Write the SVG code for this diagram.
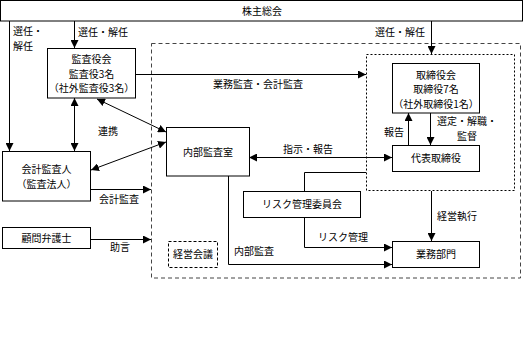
<svg xmlns="http://www.w3.org/2000/svg" width="524" height="341" viewBox="0 0 524 341">
<style>
text{font-family:"Noto Sans CJK JP","Noto Sans",sans-serif;font-size:10px;fill:#000}
.c{text-anchor:middle}
.box{fill:#fff;stroke:#000;stroke-width:1}
.ln{fill:none;stroke:#000;stroke-width:1}
</style>
<defs>
<marker id="ah" viewBox="0 0 10 10" refX="10" refY="5" markerWidth="8" markerHeight="8" markerUnits="userSpaceOnUse" orient="auto-start-reverse">
<path d="M0,0 L10,5 L0,10 z" fill="#000"/>
</marker>
</defs>
<rect x="0" y="0" width="524" height="341" fill="#fff"/>
<g id="outer-area">
<rect x="151.5" y="43.5" width="369" height="234.5" fill="none" stroke="#444" stroke-dasharray="4,3"/>
</g>
<g id="board-area">
<rect x="366.5" y="54.5" width="148" height="136" fill="none" stroke="#000" stroke-dasharray="2,2"/>
</g>
<g id="connectors">
<polyline class="ln" points="9.5,21 9.5,151" marker-end="url(#ah)"/>
<line class="ln" x1="74.5" y1="21" x2="74.5" y2="48" marker-end="url(#ah)"/>
<line class="ln" x1="431.5" y1="21" x2="431.5" y2="54" marker-end="url(#ah)"/>
<line class="ln" x1="136" y1="74.5" x2="366" y2="74.5" marker-end="url(#ah)"/>
<line class="ln" x1="74.5" y1="98" x2="74.5" y2="151" marker-start="url(#ah)" marker-end="url(#ah)"/>
<line class="ln" x1="97" y1="99" x2="166" y2="132" marker-start="url(#ah)" marker-end="url(#ah)"/>
<line class="ln" x1="166" y1="142" x2="91" y2="170" marker-start="url(#ah)" marker-end="url(#ah)"/>
<line class="ln" x1="90" y1="189.5" x2="151" y2="189.5" marker-end="url(#ah)"/>
<line class="ln" x1="90" y1="239.5" x2="151" y2="239.5" marker-end="url(#ah)"/>
<line class="ln" x1="408.5" y1="145" x2="408.5" y2="113" marker-end="url(#ah)"/>
<line class="ln" x1="430.5" y1="113" x2="430.5" y2="145" marker-end="url(#ah)"/>
<line class="ln" x1="249" y1="157.5" x2="392" y2="157.5" marker-start="url(#ah)" marker-end="url(#ah)"/>
<polyline class="ln" points="304.5,191 304.5,172.5 366,172.5"/>
<polyline class="ln" points="304.5,217 304.5,247.5 392,247.5" marker-end="url(#ah)"/>
<line class="ln" x1="431.5" y1="191" x2="431.5" y2="241" marker-end="url(#ah)"/>
<polyline class="ln" points="228.5,176 228.5,264.5 392,264.5" marker-end="url(#ah)"/>
</g>
<g id="labels">
<text x="13" y="35">選任・</text>
<text x="13" y="49.5">解任</text>
<text x="78" y="36">選任・解任</text>
<text x="375" y="36">選任・解任</text>
<text x="213" y="88">業務監査・会計監査</text>
<text x="98" y="135">連携</text>
<text x="99" y="203">会計監査</text>
<text x="110" y="251">助言</text>
<text x="283" y="153">指示・報告</text>
<text x="384" y="135.5">報告</text>
<text x="437" y="125">選定・解職・</text>
<text x="457" y="139.5">監督</text>
<text x="437" y="220">経営執行</text>
<text x="318" y="241">リスク管理</text>
<text x="234" y="255">内部監査</text>
</g>
<g id="shareholders">
<rect class="box" x="0.5" y="0.5" width="522" height="20.5"/>
<text class="c" x="262" y="15">株主総会</text>
</g>
<g id="auditors">
<rect class="box" x="47.5" y="48.5" width="88" height="49.5"/>
<text class="c" x="91.5" y="63">監査役会</text>
<text class="c" x="91.5" y="77.5">監査役3名</text>
<text class="c" x="91.5" y="92">（社外監査役3名）</text>
</g>
<g id="board">
<rect class="box" x="392.5" y="63.5" width="87" height="49.5"/>
<text class="c" x="436" y="78.5">取締役会</text>
<text class="c" x="436" y="93">取締役7名</text>
<text class="c" x="436" y="107.5">（社外取締役1名）</text>
</g>
<g id="ceo">
<rect class="box" x="392.5" y="145.5" width="87" height="26"/>
<text class="c" x="436" y="161.5">代表取締役</text>
</g>
<g id="internal-audit">
<rect class="box" x="166.5" y="127.5" width="83" height="48.5"/>
<text class="c" x="208" y="155.5">内部監査室</text>
</g>
<g id="accounting-auditor">
<rect class="box" x="2.5" y="151.5" width="88" height="49.5"/>
<text class="c" x="46.5" y="173">会計監査人</text>
<text class="c" x="46.5" y="187.5">（監査法人）</text>
</g>
<g id="lawyer">
<rect class="box" x="2.5" y="227.5" width="88" height="21"/>
<text class="c" x="46.5" y="242">顧問弁護士</text>
</g>
<g id="risk-committee">
<rect class="box" x="243.5" y="191.5" width="117" height="26"/>
<text class="c" x="302" y="208">リスク管理委員会</text>
</g>
<g id="management-meeting">
<rect x="168.5" y="241.5" width="49" height="26" fill="#fff" stroke="#000" stroke-dasharray="3,2"/>
<text class="c" x="193" y="258">経営会議</text>
</g>
<g id="business-dept">
<rect class="box" x="392.5" y="241.5" width="87" height="26"/>
<text class="c" x="436" y="258">業務部門</text>
</g>
</svg>
